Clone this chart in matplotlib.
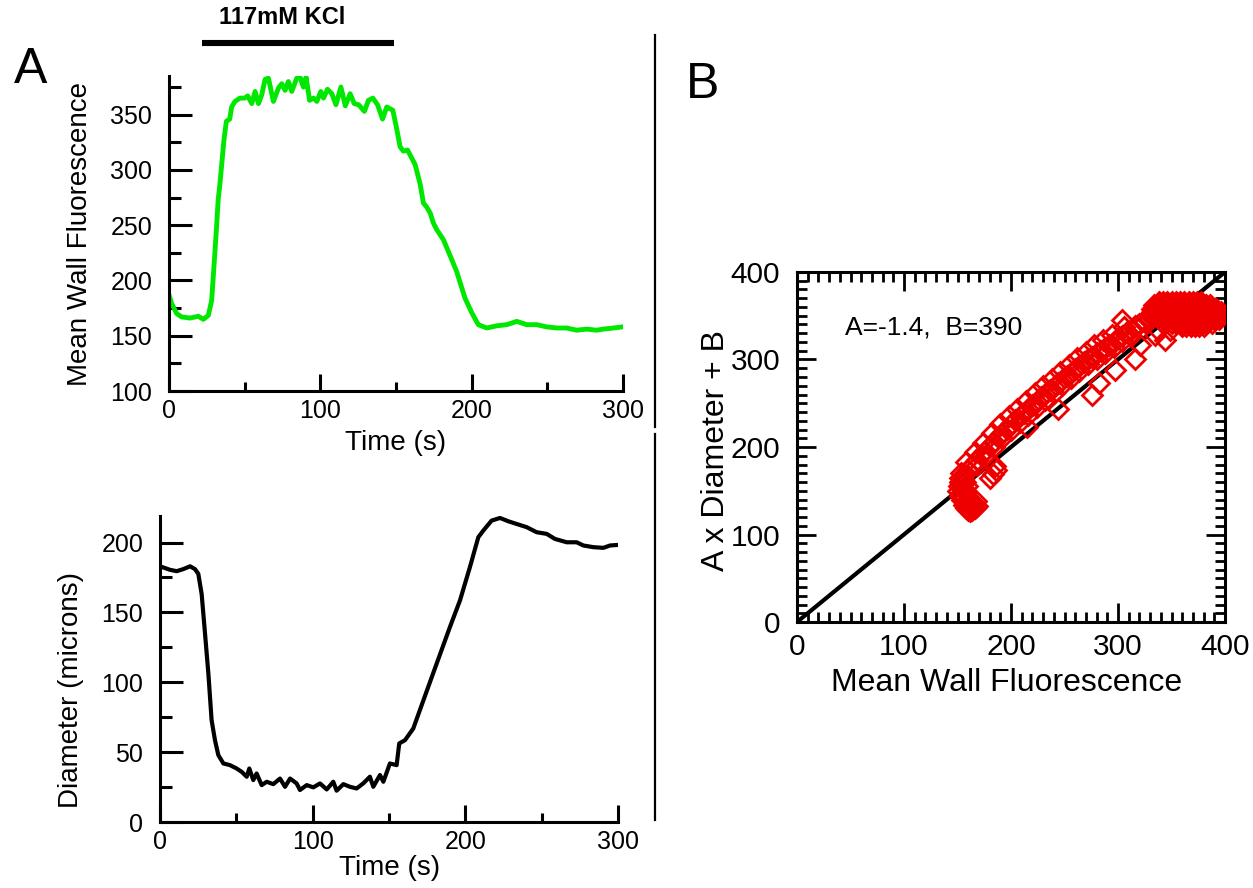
import matplotlib
matplotlib.use('Agg')
import matplotlib.pyplot as plt
from matplotlib.ticker import MultipleLocator
from matplotlib.lines import Line2D

plt.rcParams['font.family'] = ['Liberation Sans', 'DejaVu Sans']

# ---------------- data ----------------
fluor_time = [0, 1.8, 5.1, 8.4, 13.9, 19.4, 22.7, 26, 28.2, 30.4, 31.5, 32.5, 33.7, 36.3, 37.9,
              40.1, 41.4, 43.6, 46.9, 50, 52, 54.7, 56.9, 59.1, 61.3, 63.5, 65.7, 69, 72.3, 74.5,
              76.7, 78.9, 81.1, 84.4, 86.6, 88.8, 90.6, 92.9, 95.5, 97.7, 100.3, 102.1, 104.7,
              107.6, 110.3, 113.6, 116.5, 119.7, 122.4, 125.3, 129.1, 131.8, 134.7, 137.8, 141.1,
              143.9, 147.9, 150.5, 152.7, 154.9, 157.6, 162.6, 166, 168.1, 170, 172.6, 174.7,
              176.9, 181.3, 186.8, 190.1, 195.6, 200, 204.4, 210, 216.6, 223.2, 229.8, 236.4,
              243, 249.6, 256.2, 262.8, 269.4, 276, 282.6, 287, 293.7, 299.6]
fluor_value = [187, 179, 170, 167, 166, 167.6, 164.8, 168.5, 182, 227, 250, 273, 288, 327, 344,
               346, 357, 362, 365, 365, 367, 360, 371, 360, 368, 382, 383, 362, 374, 378,
               372, 380, 371, 383, 384, 375, 384, 363, 365, 362, 371, 365, 373,
               369, 359, 375, 358, 369, 360, 359, 353, 363, 365, 359, 346,
               357, 354, 337, 321, 317, 318, 305, 287, 270, 267, 261, 252,
               246, 237, 219, 208, 184, 171, 160, 157, 159, 160, 163, 160,
               160, 158, 157, 157, 155, 156, 155, 156, 157, 158]

diam_time = [0, 6.5, 10.9, 15.3, 19.7, 22.9, 25.1, 27.3, 29.5, 31.7, 33.8, 36, 38.2, 41.5, 45.8,
             50.2, 53.5, 56.8, 58.5, 61.1, 63.3, 66.6, 69.9, 74.2, 78.6, 81.9, 85.2, 89.5, 91.7,
             96.1, 100.4, 104.8, 109.2, 113.5, 115.7, 120.1, 124.4, 128.8, 133.1, 137.5, 139.7,
             144.1, 146.3, 150.6, 155, 156.7, 160.5, 165.9, 172.5, 181.2, 189.9, 196.5, 203,
             208.5, 211.8, 217.2, 222.7, 228.2, 233.6, 240.2, 246.7, 253.3, 258.7, 266.4, 272.9,
             277.3, 283.8, 290.4, 294.8, 300]
diam_value = [183, 180.5, 179.5, 181, 183, 181, 177.6, 163, 134.7, 106, 72.9, 58.6, 47.9, 41.9, 40.7,
              38.3, 35.9, 32.4, 38.3, 30, 34.7, 26.4, 28.8, 27.1, 31.1, 25.2, 31.1, 27.6, 22.9,
              26.4, 24.8, 27.6, 23.3, 28.8, 22.4, 27.1, 25.2, 24, 27.6, 32.4, 25.2,
              33.6, 28.8, 41.9, 40.7, 56.2, 58.6, 66.9, 87, 113.3, 139.5, 158.6, 182.4,
              203.8, 208.6, 215.7, 217.6, 215.2, 213.3, 211, 207.4, 206.2, 202.6, 200.2, 200.2,
              197.9, 196.7, 196.2, 197.9, 198.3]

kcl_window = [22, 149]
kcl_label = '117mM KCl'

# scatter (Mean Wall Fluorescence vs A x Diameter + B)
blob_f = [150, 152, 154, 156, 158, 160, 162, 164, 166, 168,
          151, 153, 155, 157, 159, 161, 163, 165, 167,
          152, 155, 158, 161, 164, 152, 154, 156, 153, 155, 157, 159,
          180, 183, 186, 185]
blob_v = [150, 144, 139, 134, 130, 128, 127, 128, 130, 133,
          156, 148, 142, 137, 133, 131, 132, 134, 138,
          160, 153, 147, 140, 136, 165, 158, 152, 170, 164, 160, 155,
          165, 169, 174, 178]
band_f = [156, 160, 164, 168, 172, 176, 180, 184, 188, 192, 196, 200, 204, 208, 212, 216, 220, 224,
          228, 232, 236, 240, 244, 248, 252, 256, 260, 264, 268, 272, 276, 280, 284, 288, 292, 296,
          300, 304, 308, 312, 316, 320, 324, 328, 332,
          158, 166, 174, 182, 190, 198, 206, 214, 222, 230, 238, 246, 254, 262, 270, 278, 286, 294,
          168, 176, 184, 192, 200, 208, 216, 224, 232, 240, 248, 256, 264, 272, 280, 288, 296, 304, 312]
band_v = [168, 174, 180, 185, 191, 196, 201, 206, 211, 216, 221, 226, 231, 235, 239, 244, 248, 252,
          257, 261, 265, 269, 273, 277, 281, 285, 289, 293, 297, 300, 303, 307, 310, 313, 317, 320,
          324, 327, 331, 334, 338, 341, 344, 348, 351,
          183, 194, 205, 216, 226, 235, 244, 253, 262, 270, 278, 286, 294, 302, 309, 316, 322, 328,
          179, 190, 200, 210, 219, 229, 237, 246, 254, 262, 271, 279, 287, 295, 301, 307, 314, 321, 327]
sparse_f = [215, 244, 276, 282, 297, 316, 321, 335, 344, 349, 337, 304, 306, 379, 360, 318, 325, 328, 332]
sparse_v = [223, 244, 260, 273, 288, 300, 317, 328, 322, 334, 334, 345, 337, 342, 340, 338, 343, 346, 352]
cluster_f = [338, 342, 346, 350, 354, 358, 362, 366, 370, 374, 378,
             334, 338, 342, 346, 350, 354, 358, 362, 366, 370, 374, 378, 382, 386,
             332, 336, 340, 344, 348, 352, 356, 360, 364, 368, 372, 376, 380, 384, 388, 392,
             332, 336, 340, 344, 348, 352, 356, 360, 364, 368, 372, 376, 380, 384, 388, 392, 396,
             336, 340, 344, 348, 352, 356, 360, 364, 368, 372, 376, 380, 384, 388, 392, 396,
             342, 346, 350, 354, 358, 362, 366, 370, 374, 378, 382, 386, 390, 394,
             350, 354, 358, 362, 366, 370, 374, 378, 382, 388,
             360, 364, 368, 372, 376, 380]
cluster_v = [366, 366, 366, 366, 366, 366, 366, 366, 366, 366, 366,
             362, 362, 362, 362, 362, 362, 362, 362, 362, 362, 362, 362, 362, 362,
             358, 358, 358, 358, 358, 358, 358, 358, 358, 358, 358, 358, 358, 358, 358, 358,
             354, 354, 354, 354, 354, 354, 354, 354, 354, 354, 354, 354, 354, 354, 354, 354, 354,
             350, 350, 350, 350, 350, 350, 350, 350, 350, 350, 350, 350, 350, 350, 350, 350,
             346, 346, 346, 346, 346, 346, 346, 346, 346, 346, 346, 346, 346, 346,
             342, 342, 342, 342, 342, 342, 342, 342, 342, 342,
             338, 338, 338, 338, 338, 338]
identity_x = [0, 400]
identity_y = [0, 400]
fit_label = 'A=-1.4,  B=390'

GREEN = '#00e800'
RED = '#ee0000'

fig = plt.figure(figsize=(12.53, 8.88), dpi=100)

# ---------------- panel A top ----------------
ax1 = fig.add_axes([169/1253, 1-391/888, 454/1253, 315/888])
ax1.plot(fluor_time, fluor_value, color=GREEN, lw=3.5, solid_joinstyle='round')
ax1.set_xlim(0, 300)
ax1.set_ylim(100, 385)
ax1.xaxis.set_major_locator(MultipleLocator(100))
ax1.xaxis.set_minor_locator(MultipleLocator(50))
ax1.yaxis.set_major_locator(MultipleLocator(50))
ax1.yaxis.set_minor_locator(MultipleLocator(25))
ax1.set_xlabel('Time (s)', fontsize=20)
ax1.set_ylabel('Mean Wall Fluorescence', fontsize=20)
ax1.xaxis.set_label_coords(0.498, -0.123)
ax1.yaxis.set_label_coords(-0.167, 0.5)
ax1.plot(kcl_window, [415, 415], color='black', lw=4.4, solid_capstyle='butt', clip_on=False)
ax1.text(75, 438, kcl_label, fontsize=17, fontweight='bold', ha='center', va='center')

# ---------------- panel A bottom ----------------
ax2 = fig.add_axes([160/1253, 1-822/888, 458/1253, 306/888])
ax2.plot(diam_time, diam_value, color='black', lw=3.0, solid_joinstyle='round')
ax2.set_xlim(0, 300)
ax2.set_ylim(0, 219)
ax2.xaxis.set_major_locator(MultipleLocator(100))
ax2.xaxis.set_minor_locator(MultipleLocator(50))
ax2.yaxis.set_major_locator(MultipleLocator(50))
ax2.yaxis.set_minor_locator(MultipleLocator(25))
ax2.set_xlabel('Time (s)', fontsize=20)
ax2.set_ylabel('Diameter (microns)', fontsize=20)
ax2.xaxis.set_label_coords(0.502, -0.109)
ax2.yaxis.set_label_coords(-0.166, 0.43)

for ax in (ax1, ax2):
    for s in ('top', 'right'):
        ax.spines[s].set_visible(False)
    for s in ('left', 'bottom'):
        ax.spines[s].set_linewidth(2.2)
    ax.tick_params(axis='y', which='major', direction='in', length=16.5, width=2.2, labelsize=18, pad=12)
    ax.tick_params(axis='y', which='minor', direction='in', length=8.5, width=2.2)
    ax.tick_params(axis='x', which='major', direction='in', length=12, width=2.2, labelsize=18, pad=6)
    ax.tick_params(axis='x', which='minor', direction='in', length=6.5, width=2.2)

# ---------------- panel B ----------------
ax3 = fig.add_axes([797/1253, 1-622/888, 428/1253, 350/888])
ax3.plot(identity_x, identity_y, color='black', lw=3.0, zorder=2)
sf = blob_f + band_f + sparse_f + cluster_f
sv = blob_v + band_v + sparse_v + cluster_v
ax3.plot(sf, sv, linestyle='none', marker='D', markersize=10, markerfacecolor='none',
         markeredgecolor=RED, markeredgewidth=2.0, zorder=3)
ax3.set_xlim(0, 400)
ax3.set_ylim(0, 400)
for a in (ax3.xaxis, ax3.yaxis):
    a.set_major_locator(MultipleLocator(100))
    a.set_minor_locator(MultipleLocator(10))
for s in ax3.spines.values():
    s.set_linewidth(2.2)
ax3.tick_params(which='both', direction='in', top=True, right=True, width=2.0)
ax3.tick_params(which='major', length=14, labelsize=21.5)
ax3.tick_params(which='minor', length=7)
ax3.tick_params(axis='y', which='major', pad=12)
ax3.tick_params(axis='x', which='major', pad=8)
ax3.set_xlabel('Mean Wall Fluorescence', fontsize=23)
ax3.set_ylabel('A x Diameter + B', fontsize=23)
ax3.xaxis.set_label_coords(0.49, -0.132)
ax3.yaxis.set_label_coords(-0.155, 0.49)
ax3.text(45, 337, fit_label, fontsize=19, ha='left', va='center')

# ---------------- panel letters and divider ----------------
fig.text(31/1253, 1-70/888, 'A', fontsize=36, ha='center', va='center')
fig.text(703/1253, 1-85/888, 'B', fontsize=36, ha='center', va='center')
xd = 655/1253
fig.add_artist(Line2D([xd, xd], [1-35/888, 1-427/888], color='black', lw=1.6, transform=fig.transFigure))
fig.add_artist(Line2D([xd, xd], [1-434/888, 1-820/888], color='black', lw=1.6, transform=fig.transFigure))

fig.savefig('out.png', dpi=100)
